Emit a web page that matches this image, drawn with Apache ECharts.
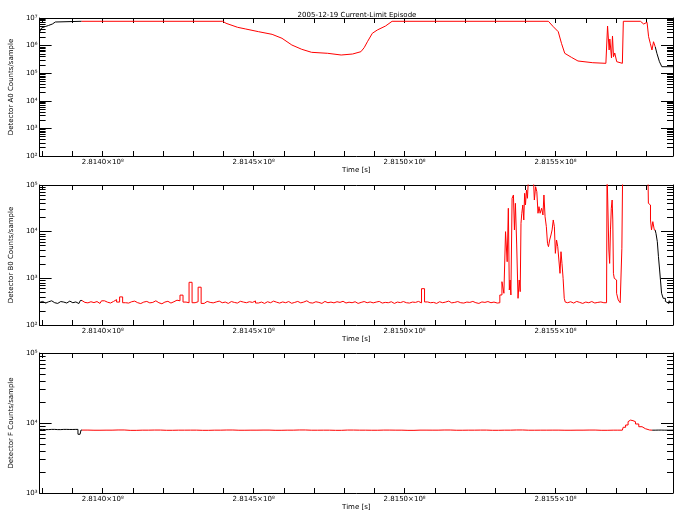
<!DOCTYPE html>
<html><head><meta charset="utf-8">
<script src="https://cdn.jsdelivr.net/npm/echarts@6/dist/echarts.min.js"></script>
<style>html,body{margin:0;padding:0;background:#fff}#c{width:684px;height:518px}</style>
</head><body><div id="c"></div>
<script>
// ---------------- data ----------------
const titleText = '2005-12-19 Current-Limit Episode';
const timeBase = 281400000;            // seconds; x values are offsets from this
const xMin = -20900, xMax = 188900;
const xTickValues = [-20000,-10000,0,10000,20000,30000,40000,50000,60000,70000,80000,90000,100000,110000,120000,130000,140000,150000,160000,170000,180000];
const xLabelValues = [0, 50000, 100000, 150000];
const panelNames = ['Detector A0 Counts/sample', 'Detector B0 Counts/sample', 'Detector F Counts/sample'];
const panelRanges = [[1e2, 1e7], [1e2, 1e5], [1e3, 1e5]];
const redWindow = [-7190, 183400];

// Panel 1: [time offset (s), counts]
const p1Data = [[-20900,3.11e6],[-20260,4.35e6],[-18950,4.92e6],[-17970,5.35e6],[-16670,6.06e6],[-15690,7.16e6],[-15030,7.6e6],
 [-7000,7.6e6],
 [39770,7.6e6],[40850,6.43e6],[44670,4.60e6],[47390,3.99e6],[51630,3.19e6],[56110,2.56e6],[59380,1.84e6],[62650,1.05e6],
 [65920,7.35e5],[69180,5.71e5],[74510,5.26e5],[78990,4.56e5],[82780,4.96e5],[85520,6.01e5],[86600,8.39e5],[87680,1.38e6],
 [89310,2.79e6],[90950,3.67e6],[93690,5.13e6],[95850,7.6e6],[147620,7.6e6],[149250,4.84e6],[150890,3.19e6],[151960,1.21e6],
 [153040,5.26e5],[155230,3.77e5],[157420,2.77e5],[162320,2.40e5],[166670,2.28e5],[167220,5.13e6],[167750,6.93e5],[167980,1.73e6],
 [168530,3.56e5],[168860,2.23e6],[169190,3.96e5],[169610,5.40e5],[170260,2.61e5],[172130,2.28e5],[172450,7.6e6],[178110,7.6e6],
 [179190,6.06e6],[180300,6.98e6],[180820,2.10e6],[181370,1.21e6],[181930,6.93e5],[182450,1.38e6],[183010,9.12e5],[183560,5.26e5],
 [184410,2.61e5],[185200,1.72e5],[188900,1.72e5]];

// Panel 2: quiet stretch sampled every 1000 s from -20900
const p2QuietStart = -20900, p2QuietStep = 1000;
const p2Quiet = [305,320,295,315,330,300,290,318,310,296, 325,300,312,288,335,305,298,315,302,318,
 290,330,308,296,320,350,310,400,300,295, 315,325,300,288,310,320,298,305,330,300,
 285,310,322,295,315,340,330,437,310,300, 822,300,315,646,290,320,305,298,312,325,
 300,310,290,318,305,295,322,310,300,315, 305,328,296,310,290,315,300,325,308,295,
 312,300,318,292,305,320,298,310,330,300, 295,315,305,290,320,300,310,298,315,305,
 322,296,308,300,315,290,305,318,300,312, 298,310,320,295,305,300,315,290,310,302,
 318,300,295,310,305,320,298,600,312,300, 305,290,315,300,310,325,298,305,318,300,
 295,310,305,320,300,290,312,305,318,300, 310,295];
const p2Burst1 = [[131280,300],[131800,440],[132680,847],[133100,478],[133760,1.0e4],[134190,2.27e3],[134520,3.17e4],[134850,562],
 [135040,920],[135370,440],[135830,5.19e4],[136260,6.11e4],[136490,1.09e4],[136910,4.05e4],[137340,5.18e3],[137800,373],
 [138130,920],[138450,518],[138650,1.51e4],[138990,2.48e4],[139310,3.73e4],[139640,1.78e4],[139870,6.64e4],[140200,3.73e4],
 [140520,7.82e4],[140850,5.19e4],[141080,1.2e5],[142710,1.2e5],[143240,4.77e4],[143560,9.2e4],[144020,7.18e4],[144350,2.48e4],
 [144670,3.43e4],[145100,2.48e4],[145660,3.17e4],[145980,2.28e4],[146310,6.11e4],[146740,2.09e4],[147160,1.28e4],[147490,5.62e3],
 [147820,4.77e3],[148270,6.63e3],[148690,8.49e3],[149020,1.09e4],[149450,1.78e4],[149770,1.28e4],[150100,3.43e3],[150560,6.63e3],
 [150890,4.77e3],[151310,2.47e3],[151640,1.28e3],[151960,3.72e3],[152290,2.09e3],[152710,1.0e3],[153040,373],[153370,310]];
const p2QuietBStart = 154000, p2QuietBStep = 1000;
const p2QuietB = [300,315,295,320,305,290,310,300,318,296,305,312,300];
const p2Burst2 = [[166890,300],[167220,2e5],[167550,2e5],[167750,4.05e3],[168080,2.09e3],[168300,1.09e4],[168630,3.17e4],[168860,4.77e4],
 [169050,1.78e4],[169290,1.28e3],[169610,1.0e3],[169940,920],[170490,478],[171020,344],[171800,300],[172130,4.4e3],[172320,2e5],
 [180580,2e5],[180910,4.05e4],[181330,3.73e4],[181560,1.78e4],[182000,1.09e4],[182430,1.64e4],[182980,1.09e4],[183540,9.2e3],
 [183870,6.1e3],[184300,2.91e3],[184630,1.51e3],[184860,920],[185380,478],[185940,373],[186820,320],[187250,290],[187900,330],
 [188400,300],[188900,310]];

// Panel 3
const p3Start = [[-20900,8.1e3],[-18900,8.05e3],[-16900,8.1e3],[-14900,8.05e3],[-12900,8.1e3],[-10900,8.08e3],[-8900,8.1e3],[-7500,6.9e3]];
const p3QuietStart = -6900, p3QuietStep = 4000;
const p3Quiet = [7.92e3,7.88e3,7.9e3,7.95e3,7.85e3,7.9e3,7.93e3,7.87e3,7.9e3,7.91e3,
 7.86e3,7.9e3,7.94e3,7.88e3,7.9e3,7.92e3,7.87e3,7.9e3,7.95e3,7.89e3,
 7.9e3,7.86e3,7.93e3,7.9e3,7.88e3,7.92e3,7.9e3,7.85e3,7.91e3,7.9e3,
 7.94e3,7.88e3,7.9e3,7.92e3,7.87e3,7.9e3,7.95e3,7.89e3,7.9e3,7.91e3,
 7.88e3,7.9e3,7.93e3,7.87e3,7.9e3];
const p3Bump = [[172130,7.9e3],[172650,8.69e3],[173760,9.36e3],[174280,1.045e4],[174830,1.10e4],[175390,1.08e4],[175910,1.045e4],
 [177020,9.68e3],[178110,8.85e3],[179190,8.29e3],[180300,7.94e3],[182000,7.9e3],[184000,7.92e3],[186000,7.9e3],[188900,7.9e3]];

// ---------------- build ----------------
function grid(start, step, vals) { return vals.map((v, i) => [start + i * step, v]); }
const panels = [
  p1Data,
  grid(p2QuietStart, p2QuietStep, p2Quiet).concat(p2Burst1, grid(p2QuietBStart, p2QuietBStep, p2QuietB), p2Burst2),
  p3Start.concat(grid(p3QuietStart, p3QuietStep, p3Quiet), p3Bump)
];
const SUP = '⁰¹²³⁴⁵⁶⁷⁸⁹';
const sup = n => String(n).split('').map(d => SUP[+d]).join('');
const font = 'DejaVu Sans';
const grids = [{top: 18, height: 138}, {top: 185, height: 140}, {top: 353, height: 140}];

const xAxes = [], yAxes = [], series = [];
function minorVals(r) {
  const out = [];
  for (let d = r[0]; d < r[1]; d *= 10) for (let k = 2; k <= 9; k++) out.push(k * d);
  return out;
}
function majorVals(r) { const out = []; for (let d = r[0]; d <= r[1] * 1.0001; d *= 10) out.push(d); return out; }

grids.forEach((g, gi) => {
  const lineStyle = {color: '#000', width: 1};
  xAxes.push({
    type: 'value', gridIndex: gi, position: 'bottom', min: xMin, max: xMax,
    axisLine: {show: true, lineStyle, onZero: false},
    axisTick: {show: true, inside: true, length: 5, lineStyle, customValues: xTickValues},
    axisLabel: {show: true, customValues: xLabelValues, margin: 3, color: '#000', fontFamily: font, fontSize: 7,
      formatter: v => ((timeBase + v) / 1e8).toFixed(4) + '×10⁸'},
    splitLine: {show: false},
    name: 'Time [s]', nameLocation: 'middle', nameGap: 10,
    nameTextStyle: {color: '#000', fontFamily: font, fontSize: 7}
  });
  xAxes.push({
    type: 'value', gridIndex: gi, position: 'top', min: xMin, max: xMax,
    axisLine: {show: true, lineStyle, onZero: false},
    axisTick: {show: true, inside: true, length: 5, lineStyle, customValues: xTickValues},
    axisLabel: {show: false}, splitLine: {show: false}
  });
  const r = panelRanges[gi];
  ['left', 'right'].forEach(pos => {
    yAxes.push({
      type: 'log', logBase: 10, gridIndex: gi, position: pos, min: r[0], max: r[1],
      axisLine: {show: true, lineStyle, onZero: false},
      axisTick: {show: true, inside: true, length: 12, lineStyle, customValues: majorVals(r)},
      axisLabel: {show: pos === 'left', customValues: majorVals(r), margin: 2, color: '#000', fontFamily: font, fontSize: 7,
        formatter: v => '10' + sup(Math.round(Math.log10(v)))},
      splitLine: {show: false},
      name: pos === 'left' ? panelNames[gi] : '', nameLocation: 'middle', nameGap: 15,
      nameTextStyle: {color: '#000', fontFamily: font, fontSize: 7}
    });
    yAxes.push({
      type: 'log', logBase: 10, gridIndex: gi, position: pos, min: r[0], max: r[1],
      axisLine: {show: false, onZero: false},
      axisTick: {show: true, inside: true, length: 6, lineStyle, customValues: minorVals(r)},
      axisLabel: {show: false}, splitLine: {show: false}
    });
  });
  const data = panels[gi];
  const red = data.filter(p => p[0] >= redWindow[0] && p[0] <= redWindow[1]);
  const redFirst = red[0][0], redLast = red[red.length - 1][0];
  const stepMode = gi === 0 ? false : 'middle';
  const blackParts = [data.filter(p => p[0] <= redFirst), data.filter(p => p[0] >= redLast)];
  blackParts.forEach(part => series.push({
    type: 'line', xAxisIndex: gi * 2, yAxisIndex: gi * 4, data: part, step: stepMode,
    symbol: 'none', lineStyle: {color: '#000', width: 1}, z: 2, silent: true, clip: true
  }));
  series.push({
    type: 'line', xAxisIndex: gi * 2, yAxisIndex: gi * 4, data: red, step: stepMode,
    symbol: 'none', lineStyle: {color: '#ff0000', width: 1}, z: 3, silent: true, clip: true
  });
});

const chart = echarts.init(document.getElementById('c'), null, {renderer: 'canvas'});
chart.setOption({
  animation: false,
  backgroundColor: '#fff',
  title: {text: titleText, left: 352, top: 7, textAlign: 'center',
    textStyle: {color: '#000', fontFamily: font, fontSize: 7, fontWeight: 'normal'}},
  grid: grids.map(g => ({left: 31, right: 11, top: g.top, height: g.height})),
  xAxis: xAxes,
  yAxis: yAxes,
  series: series
});
</script>
</body></html>
